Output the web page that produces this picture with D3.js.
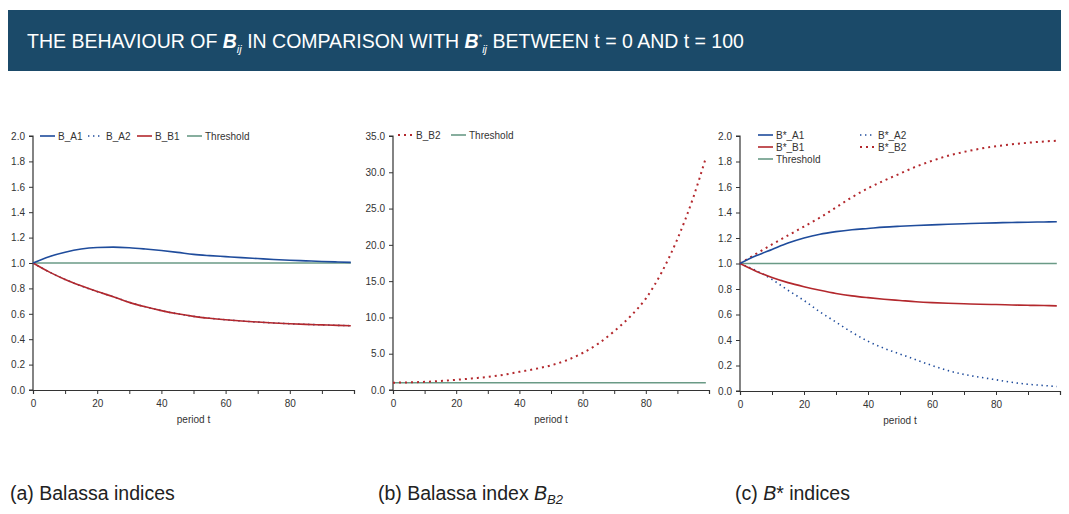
<!DOCTYPE html>
<html>
<head>
<meta charset="utf-8">
<script src="https://cdn.jsdelivr.net/npm/d3@7"></script>
<style>
  body { margin: 0; background: #fff; }
  svg { display: block; font-family: "Liberation Sans", Arial, sans-serif; }
</style>
</head>
<body>
<div id="chart"></div>
<script>
// sampled periods
const periods = [0, 5, 10, 15, 20, 25, 30, 35, 40, 45, 50, 55, 60, 65, 70, 75, 80, 85, 90, 95, 99]

// (a) Balassa indices
const bA1 = [1.0, 1.05, 1.085, 1.11, 1.122, 1.125, 1.12, 1.11, 1.098, 1.084, 1.068, 1.058, 1.05, 1.042, 1.035, 1.028, 1.022, 1.017, 1.012, 1.008, 1.005]
const bA2 = [1.0, 0.93, 0.87, 0.82, 0.775, 0.735, 0.69, 0.655, 0.625, 0.6, 0.58, 0.565, 0.553, 0.543, 0.535, 0.528, 0.522, 0.517, 0.513, 0.509, 0.506]
const bB1 = [1.0, 0.93, 0.87, 0.82, 0.775, 0.735, 0.69, 0.655, 0.625, 0.6, 0.58, 0.565, 0.553, 0.543, 0.535, 0.528, 0.522, 0.517, 0.513, 0.509, 0.506]

// (b) Balassa index B_B2
const bB2 = [1.0, 1.05, 1.12, 1.25, 1.4, 1.6, 1.8, 2.1, 2.5, 2.9, 3.4, 4.1, 5.1, 6.4, 8.1, 10.1, 12.6, 16.2, 20.8, 26.5, 32.0]

// (c) B* indices
const sA1 = [1.0, 1.06, 1.11, 1.16, 1.2, 1.23, 1.25, 1.265, 1.275, 1.285, 1.292, 1.298, 1.303, 1.308, 1.312, 1.316, 1.319, 1.322, 1.324, 1.326, 1.328]
const sA2 = [1.0, 0.945, 0.875, 0.79, 0.71, 0.62, 0.54, 0.46, 0.39, 0.335, 0.29, 0.245, 0.2, 0.16, 0.13, 0.108, 0.088, 0.068, 0.053, 0.043, 0.035]
const sB1 = [1.0, 0.94, 0.89, 0.85, 0.818, 0.79, 0.765, 0.746, 0.732, 0.72, 0.71, 0.7, 0.693, 0.688, 0.684, 0.68, 0.678, 0.675, 0.672, 0.67, 0.668]
const sB2 = [1.0, 1.075, 1.15, 1.22, 1.29, 1.36, 1.44, 1.52, 1.59, 1.65, 1.705, 1.76, 1.805, 1.845, 1.875, 1.9, 1.92, 1.935, 1.947, 1.957, 1.963]

const threshold = periods.map(() => 1.0)

const xTicksMajor = [0, 20, 40, 60, 80]
const yTicksA = [0, 0.2, 0.4, 0.6, 0.8, 1.0, 1.2, 1.4, 1.6, 1.8, 2.0]
const yTicksB = [0, 5, 10, 15, 20, 25, 30, 35]

const blue = "#1f4c9c"
const red = "#b3282d"
const green = "#6a9a86"
const axisColor = "#333"

const width = 1069, height = 514

const svg = d3.select("#chart").append("svg")
    .attr("width", width)
    .attr("height", height)

// header band
svg.append("rect")
    .attr("x", 8).attr("y", 10)
    .attr("width", 1053).attr("height", 61)
    .attr("fill", "#1b4a69")

const title = svg.append("text")
    .attr("x", 27).attr("y", 48)
    .attr("fill", "white")
    .attr("font-size", 19.5)
title.append("tspan").text("THE BEHAVIOUR OF ")
title.append("tspan").attr("font-weight", "bold").attr("font-style", "italic").text("B")
title.append("tspan").attr("font-style", "italic").attr("font-size", 11).attr("dy", 5).text("ij")
title.append("tspan").attr("dy", -5).text(" IN COMPARISON WITH ")
title.append("tspan").attr("font-weight", "bold").attr("font-style", "italic").text("B")
title.append("tspan").attr("font-size", 9).attr("dy", -8).text("*")
title.append("tspan").attr("font-style", "italic").attr("font-size", 11).attr("dy", 13).text("ij")
title.append("tspan").attr("dy", -5).text(" BETWEEN t = 0 AND t = 100")

const dotRed = {dash: "2,4", width: 2}
const dotBlue = {dash: "1.4,3.6", width: 1.6}

function drawPanel(cfg) {
    const g = svg.append("g")
    const x = d3.scaleLinear().domain([0, 100]).range([cfg.left, cfg.right])
    const y = d3.scaleLinear().domain(cfg.yDomain).range([cfg.bottom, cfg.top])

    // y axis
    const yAxis = d3.axisLeft(y).tickValues(cfg.yTicks).tickSize(4).tickPadding(4)
        .tickFormat(d3.format(".1f"))
    const ya = g.append("g").attr("transform", `translate(${cfg.left},0)`).call(yAxis)

    // x axis: minor ticks every 10, labels every 20
    const xAxis = d3.axisBottom(x).tickValues(d3.range(0, 101, 10)).tickSize(4).tickPadding(6)
        .tickFormat(d => xTicksMajor.includes(d) ? d : "")
    const xa = g.append("g").attr("transform", `translate(0,${cfg.bottom})`).call(xAxis)

    ;[ya, xa].forEach(a => {
        a.select(".domain").attr("stroke", axisColor).attr("stroke-width", 1.2)
        a.selectAll(".tick line").attr("stroke", axisColor)
        a.selectAll(".tick text").attr("fill", "#333").attr("font-size", 10)
            .attr("font-family", "'Liberation Sans', Arial, sans-serif")
    })
    ya.select(".domain").attr("d", `M-4,${cfg.bottom}H0V${cfg.top}H-4`)

    g.append("text")
        .attr("x", (cfg.left + cfg.right) / 2)
        .attr("y", cfg.bottom + 33)
        .attr("text-anchor", "middle")
        .attr("font-size", 10)
        .attr("fill", "#333")
        .text("period t")

    const line = d3.line()
        .x((d, i) => x(periods[i]))
        .y(d => y(d))
        .curve(d3.curveMonotoneX)

    cfg.series.forEach(s => {
        g.append("path")
            .attr("d", line(s.values))
            .attr("fill", "none")
            .attr("stroke", s.color)
            .attr("stroke-width", s.style ? s.style.width : 1.6)
            .attr("stroke-dasharray", s.style ? s.style.dash : null)
    })

    // legend
    cfg.legend.forEach(l => {
        const s = cfg.series.find(d => d.name == l.name)
        g.append("line")
            .attr("x1", l.x).attr("x2", l.x + 15)
            .attr("y1", l.y).attr("y2", l.y)
            .attr("stroke", s.color)
            .attr("stroke-width", s.style ? s.style.width : 1.6)
            .attr("stroke-dasharray", s.style ? s.style.dash : null)
        g.append("text")
            .attr("x", l.x + 18).attr("y", l.y + 3.5)
            .attr("font-size", 10)
            .attr("fill", "#333")
            .text(l.name)
    })
}

drawPanel({
    left: 33, right: 354, top: 136, bottom: 390,
    yDomain: [0, 2], yTicks: yTicksA,
    series: [
        {name: "Threshold", values: threshold, color: green},
        {name: "B_A2", values: bA2, color: blue, style: dotBlue},
        {name: "B_B1", values: bB1, color: red},
        {name: "B_A1", values: bA1, color: blue}
    ],
    legend: [
        {name: "B_A1", x: 40, y: 136},
        {name: "B_A2", x: 88, y: 136},
        {name: "B_B1", x: 137, y: 136},
        {name: "Threshold", x: 187, y: 136}
    ]
})

drawPanel({
    left: 393, right: 709, top: 136, bottom: 390,
    yDomain: [0, 35], yTicks: yTicksB,
    series: [
        {name: "Threshold", values: threshold, color: green},
        {name: "B_B2", values: bB2, color: red, style: dotRed}
    ],
    legend: [
        {name: "B_B2", x: 398, y: 135},
        {name: "Threshold", x: 451, y: 135}
    ]
})

drawPanel({
    left: 740, right: 1060, top: 136, bottom: 391,
    yDomain: [0, 2], yTicks: yTicksA,
    series: [
        {name: "Threshold", values: threshold, color: green},
        {name: "B*_A2", values: sA2, color: blue, style: dotBlue},
        {name: "B*_B2", values: sB2, color: red, style: dotRed},
        {name: "B*_B1", values: sB1, color: red},
        {name: "B*_A1", values: sA1, color: blue}
    ],
    legend: [
        {name: "B*_A1", x: 758, y: 135},
        {name: "B*_A2", x: 860, y: 135},
        {name: "B*_B1", x: 758, y: 147},
        {name: "B*_B2", x: 860, y: 147},
        {name: "Threshold", x: 758, y: 159}
    ]
})

// captions
const captions = svg.append("g").attr("font-size", 19.5).attr("fill", "#222")
captions.append("text").attr("x", 10).attr("y", 500).text("(a) Balassa indices")
const cb = captions.append("text").attr("x", 378).attr("y", 500)
cb.append("tspan").text("(b) Balassa index ")
cb.append("tspan").attr("font-style", "italic").text("B")
cb.append("tspan").attr("font-style", "italic").attr("font-size", 13).attr("dy", 4).text("B2")
const cc = captions.append("text").attr("x", 735).attr("y", 500)
cc.append("tspan").text("(c) ")
cc.append("tspan").attr("font-style", "italic").text("B")
cc.append("tspan").text("* indices")
</script>
</body>
</html>
